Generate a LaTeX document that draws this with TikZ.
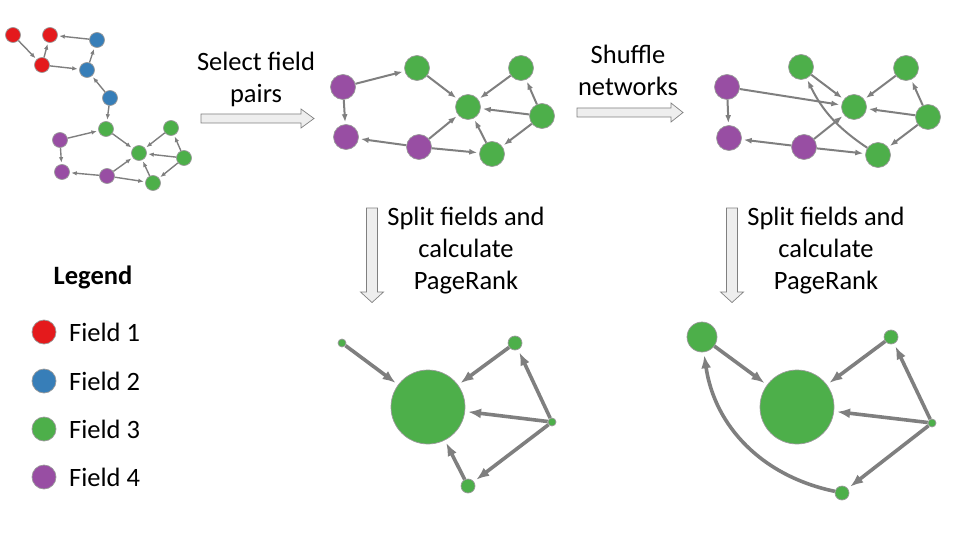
\documentclass[tikz,border=0pt]{standalone}
\usepackage{fontspec}
\setmainfont{Carlito}
\definecolor{fRed}{HTML}{E41A1C}
\definecolor{fBlue}{HTML}{377EB8}
\definecolor{fGreen}{HTML}{4DAF4A}
\definecolor{fPurple}{HTML}{984EA3}
\definecolor{edgeGray}{HTML}{7F7F7F}
\definecolor{rimGray}{HTML}{9A9A9A}
\definecolor{blkFill}{HTML}{EEEEEE}
\usetikzlibrary{arrows.meta}

\begin{document}
\begin{tikzpicture}[x=1pt, y=-1pt,
  dot/.style={circle, draw=rimGray, line width=0.7pt, inner sep=0pt},
  f1/.style={dot, fill=fRed},
  f2/.style={dot, fill=fBlue},
  f3/.style={dot, fill=fGreen},
  f4/.style={dot, fill=fPurple},
  lnka/.style={draw=edgeGray, line width=1.4pt, -{Latex[length=5.5pt,width=4.5pt]}, shorten >=1.5pt},
  lnkb/.style={draw=edgeGray, line width=2pt, -{Latex[length=8pt,width=6pt]}, shorten >=2pt},
  lnkc/.style={draw=edgeGray, line width=3.6pt, -{Latex[length=13pt,width=10pt]}, shorten >=3pt},
  txt/.style={font=\fontsize{26.5}{32}\selectfont, align=center, inner sep=0pt},
  blk/.style={draw=gray, fill=blkFill, line width=0.7pt}
]
  \useasboundingbox (0,0) rectangle (960,540);
  % Whole network
  \begin{scope}[every node/.append style={minimum size=15pt}]
    \node[f1] (a1) at (13,35) {};
    \node[f1] (a2) at (50,35) {};
    \node[f1] (a3) at (42,65) {};
    \node[f2] (a4) at (97,40) {};
    \node[f2] (a5) at (87,70) {};
    \node[f2] (a6) at (110,98) {};
    \node[f3] (a7) at (106,129) {};
    \node[f4] (a8) at (60,140) {};
    \node[f3] (a9) at (139,153) {};
    \node[f3] (a10) at (171,128) {};
    \node[f3] (a11) at (184,158) {};
    \node[f3] (a12) at (153,183) {};
    \node[f4] (a13) at (62,172) {};
    \node[f4] (a14) at (107,176) {};
  \end{scope}
  \foreach \a/\b in {a1/a3, a3/a2, a4/a2, a3/a5, a5/a4, a6/a5, a6/a7, a8/a7,
      a7/a9, a10/a9, a11/a9, a11/a10, a11/a12, a12/a9, a8/a13, a14/a13,
      a14/a12, a14/a9}
    \draw[lnka] (\a) -- (\b);
  % Field pair network
  \begin{scope}[every node/.append style={minimum size=25pt}]
    \node[f4] (b1) at (343,87) {};
    \node[f4] (b2) at (346,137) {};
    \node[f3] (b3) at (417,68) {};
    \node[f3] (b4) at (468,107) {};
    \node[f3] (b5) at (521,68) {};
    \node[f3] (b6) at (542,116) {};
    \node[f4] (b7) at (419,147) {};
    \node[f3] (b8) at (492,154) {};
  \end{scope}
  \foreach \a/\b in {b1/b3, b1/b2, b3/b4, b5/b4, b6/b4, b6/b5, b6/b8, b8/b4,
      b7/b4, b7/b2, b7/b8}
    \draw[lnkb] (\a) -- (\b);
  % Shuffled network
  \begin{scope}[every node/.append style={minimum size=25pt}]
    \node[f4] (c1) at (727,87) {};
    \node[f4] (c2) at (729,138) {};
    \node[f3] (c3) at (801,67) {};
    \node[f3] (c4) at (854,107) {};
    \node[f3] (c5) at (906,68) {};
    \node[f3] (c6) at (928,117) {};
    \node[f4] (c7) at (804,147) {};
    \node[f3] (c8) at (878,155) {};
  \end{scope}
  \foreach \a/\b in {c1/c4, c1/c2, c3/c4, c5/c4, c6/c4, c6/c5, c6/c8,
      c7/c4, c7/c2, c7/c8}
    \draw[lnkb] (\a) -- (\b);
  \draw[lnkb] (c8) to[bend left=15] (c3);
  % PageRank of field 3
  \node[f3, minimum size=8pt] (d1) at (342,343) {};
  \node[f3, minimum size=74pt] (d2) at (428,407) {};
  \node[f3, minimum size=14pt] (d3) at (515,343) {};
  \node[f3, minimum size=8pt] (d4) at (552,422) {};
  \node[f3, minimum size=14pt] (d5) at (468,486) {};
  \foreach \a/\b in {d1/d2, d3/d2, d4/d2, d4/d3, d4/d5, d5/d2}
    \draw[lnkc] (\a) -- (\b);
  % PageRank after shuffle
  \node[f3, minimum size=30pt] (e1) at (702,337) {};
  \node[f3, minimum size=74pt] (e2) at (797,407) {};
  \node[f3, minimum size=14pt] (e3) at (891,337) {};
  \node[f3, minimum size=8pt] (e4) at (932,423) {};
  \node[f3, minimum size=14pt] (e5) at (842,493) {};
  \foreach \a/\b in {e1/e2, e3/e2, e4/e2, e4/e3, e4/e5}
    \draw[lnkc] (\a) -- (\b);
  \draw[lnkc] (e5) to[bend left=35] (e1);
  % Block arrows
  \draw[blk] (201,114) -- ++(100,0) -- ++(0,-5) -- ++(13,9.5) -- ++(-13,9.5)
    -- ++(0,-5) -- ++(-100,0) -- cycle;
  \draw[blk] (577,108) -- ++(94,0) -- ++(0,-5) -- ++(12,9.5) -- ++(-12,9.5)
    -- ++(0,-5) -- ++(-94,0) -- cycle;
  \foreach \x in {372, 732}
    \draw[blk] (\x-5.5,208) -- ++(0,84) -- ++(-6,0) -- ++(11.5,10.5)
      -- ++(11.5,-10.5) -- ++(-6,0) -- ++(0,-84) -- cycle;
  % Step labels
  \node[txt] (selLbl) at (256,79) {Select field\\pairs};
  \node[txt] (shufLbl) at (628,70) {Shuffle\\networks};
  \node[txt] (splitA) at (466,251) {Split fields and\\calculate\\PageRank};
  \node[txt] (splitB) at (826,251) {Split fields and\\calculate\\PageRank};
  % Legend
  \node[txt, font=\fontsize{26.5}{32}\selectfont\bfseries] (legTitle) at (93,277) {Legend};
  \foreach \c/\y/\t in {f1/332/Field 1, f2/381/Field 2, f3/429/Field 3, f4/477/Field 4} {
    \node[\c, minimum size=24pt] (leg\t) at (44,\y) {};
    \node[txt, anchor=west] at (69,\y) {\t};
  }
\end{tikzpicture}
\end{document}
